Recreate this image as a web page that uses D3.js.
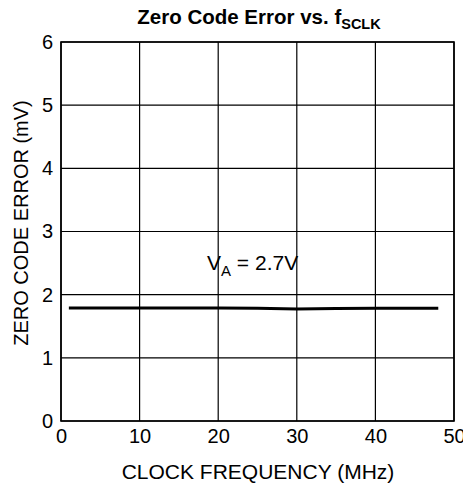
<!DOCTYPE html>
<html><head><meta charset="utf-8">
<script src="https://cdn.jsdelivr.net/npm/d3@7"></script>
<style>body{margin:0;background:#fff}svg{display:block}text{font-family:"Liberation Sans",Arial,sans-serif;fill:#000}</style>
</head><body><svg id="c" width="463" height="487"></svg>
<script>
const freq = [1, 5, 10, 15, 20, 25, 30, 35, 40, 45, 48];
const zce = [1.79, 1.79, 1.79, 1.79, 1.79, 1.785, 1.775, 1.78, 1.785, 1.785, 1.785];
const xTicks = [0, 10, 20, 30, 40, 50];
const yTicks = [0, 1, 2, 3, 4, 5, 6];

const svg = d3.select("#c");
const m = {l: 61, r: 454, t: 42, b: 421};
const x = d3.scaleLinear().domain([0, 50]).range([m.l, m.r]);
const y = d3.scaleLinear().domain([0, 6]).range([m.b, m.t]);
const FF = "Liberation Sans, Arial, sans-serif";

// grid
svg.append("g").selectAll("line").data(xTicks).join("line")
  .attr("x1", d => x(d)).attr("x2", d => x(d)).attr("y1", m.t).attr("y2", m.b)
  .attr("stroke", "#000").attr("stroke-width", 1.2);
svg.append("g").selectAll("line").data(yTicks).join("line")
  .attr("y1", d => y(d)).attr("y2", d => y(d)).attr("x1", m.l).attr("x2", m.r)
  .attr("stroke", "#000").attr("stroke-width", 1.2);
svg.append("rect").attr("x", m.l).attr("y", m.t).attr("width", m.r - m.l).attr("height", m.b - m.t)
  .attr("fill", "none").attr("stroke", "#000").attr("stroke-width", 1.6);

// axes labels
const xa = d3.axisBottom(x).tickValues(xTicks).tickFormat(d3.format("d")).tickSize(0).tickPadding(8);
const gx = svg.append("g").attr("transform", `translate(0,${m.b})`).call(xa);
gx.select(".domain").remove();
gx.selectAll("text").attr("font-size", 20).attr("font-family", FF);
const ya = d3.axisLeft(y).tickValues(yTicks).tickFormat(d3.format("d")).tickSize(0).tickPadding(8);
const gy = svg.append("g").attr("transform", `translate(${m.l},0)`).call(ya);
gy.select(".domain").remove();
gy.selectAll("text").attr("font-size", 20).attr("font-family", FF);

// data line
svg.append("path").datum(freq.map((f, i) => [f, zce[i]]))
  .attr("d", d3.line().x(d => x(d[0])).y(d => y(d[1])))
  .attr("fill", "none").attr("stroke", "#000").attr("stroke-width", 3);

// annotation
const ann = svg.append("text").attr("x", 207).attr("y", 270).attr("font-size", 21);
ann.append("tspan").text("V");
ann.append("tspan").attr("font-size", 15).attr("dy", 6).text("A");
ann.append("tspan").attr("dy", -6).text(" = 2.7V");

// title
const t = svg.append("text").attr("x", 259).attr("y", 24).attr("text-anchor", "middle")
  .attr("font-size", 20.5).attr("font-weight", "bold");
t.append("tspan").text("Zero Code Error vs. f");
t.append("tspan").attr("font-size", 14.5).attr("dy", 5).text("SCLK");

svg.append("text").attr("x", 258).attr("y", 479).attr("text-anchor", "middle")
  .attr("font-size", 21).text("CLOCK FREQUENCY (MHz)");
svg.append("text").attr("transform", "translate(28,223) rotate(-90)").attr("text-anchor", "middle")
  .attr("font-size", 20).text("ZERO CODE ERROR (mV)");
</script></body></html>
